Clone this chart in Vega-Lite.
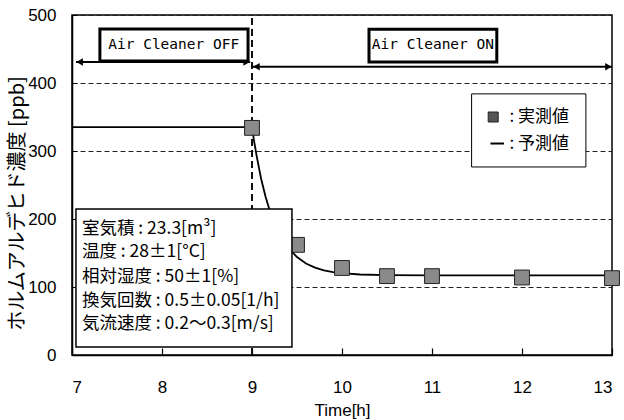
{
  "$schema": "https://vega.github.io/schema/vega-lite/v6.json",
  "width": 540,
  "height": 340,
  "autosize": {"type": "none"},
  "padding": {"left": 72, "top": 15, "right": 12, "bottom": 65},
  "background": "white",
  "config": {
    "view": {"stroke": "black", "strokeWidth": 1.5},
    "font": "Liberation Sans"
  },
  "datasets": {
    "pred": [
      {"x": 7, "y": 335}, {"x": 8, "y": 335}, {"x": 9, "y": 335},
      {"x": 9.02, "y": 317}, {"x": 9.05, "y": 294}, {"x": 9.1, "y": 260},
      {"x": 9.15, "y": 233}, {"x": 9.2, "y": 211}, {"x": 9.25, "y": 193},
      {"x": 9.3, "y": 179}, {"x": 9.4, "y": 158}, {"x": 9.5, "y": 144},
      {"x": 9.6, "y": 134.5}, {"x": 9.7, "y": 128.5}, {"x": 9.8, "y": 124.6},
      {"x": 9.9, "y": 122}, {"x": 10, "y": 120.3}, {"x": 10.2, "y": 118.4},
      {"x": 10.5, "y": 117.4}, {"x": 11, "y": 117}, {"x": 12, "y": 117}, {"x": 13, "y": 117}
    ],
    "meas": [
      {"x": 9, "y": 334}, {"x": 9.5, "y": 162}, {"x": 10, "y": 128},
      {"x": 10.5, "y": 116}, {"x": 11, "y": 116}, {"x": 12, "y": 114}, {"x": 13, "y": 113}
    ],
    "info": [
      {"x": 7.11, "y": 185.3, "t": "室気積 : 23.3[m³]"},
      {"x": 7.11, "y": 151.5, "t": "温度 : 28±1[°C]"},
      {"x": 7.11, "y": 114.7, "t": "相対湿度 : 50±1[%]"},
      {"x": 7.11, "y": 79.4, "t": "換気回数 : 0.5±0.05[1/h]"},
      {"x": 7.11, "y": 45.6, "t": "気流速度 : 0.2〜0.3[m/s]"}
    ]
  },
  "encoding": {
    "x": {
      "field": "x", "type": "quantitative",
      "scale": {"domain": [7, 13], "nice": false, "zero": false},
      "axis": {
        "values": [7, 8, 9, 10, 11, 12, 13],
        "grid": false,
        "tickSize": -7, "tickColor": "black", "tickWidth": 1.2,
        "domainColor": "black", "domainWidth": 1.5,
        "labelFontSize": 17, "labelColor": "black", "labelPadding": 31,
        "labelFont": "Liberation Sans",
        "title": "Time[h]", "titleFontSize": 17, "titleFontWeight": "normal",
        "titleColor": "black", "titleFont": "Liberation Sans",
        "titleY": 55, "titleBaseline": "middle"
      }
    },
    "y": {
      "field": "y", "type": "quantitative",
      "scale": {"domain": [0, 500], "nice": false},
      "axis": {
        "values": [0, 100, 200, 300, 400, 500],
        "grid": true, "gridDash": [5, 3], "gridColor": "#222", "gridWidth": 1,
        "tickSize": -5, "tickColor": "black",
        "domainColor": "black", "domainWidth": 1.5,
        "labelFontSize": 17, "labelColor": "black", "labelPadding": 21,
        "labelFont": "Liberation Sans",
        "title": "ホルムアルデヒド濃度 [ppb]", "titleFont": "Noto Sans CJK JP",
        "titleFontSize": 20, "titleFontWeight": "normal", "titleColor": "black",
        "titleX": -55, "titleY": 188, "titleAlign": "center", "titleBaseline": "middle", "titleAngle": -90
      }
    }
  },
  "layer": [
    {
      "data": {"values": [{"x": 9, "y": 0, "y2": 500}]},
      "mark": {"type": "rule", "strokeDash": [7, 4], "strokeWidth": 2, "color": "#111"},
      "encoding": {"y2": {"field": "y2"}}
    },
    {
      "data": {"name": "pred"},
      "mark": {"type": "line", "color": "black", "strokeWidth": 1.8},
      "encoding": {}
    },
    {
      "data": {"name": "meas"},
      "mark": {"type": "square", "size": 220, "filled": true, "color": "#8a8a8a", "stroke": "#222", "strokeWidth": 1, "opacity": 1}
    },
    {
      "data": {"values": [{"x": 7.044, "x2": 9.444, "y": 11.8, "y2": 214.7}]},
      "mark": {"type": "rect", "fill": "white", "stroke": "black", "strokeWidth": 1.5},
      "encoding": {"x2": {"field": "x2"}, "y2": {"field": "y2"}}
    },
    {
      "data": {"name": "info"},
      "mark": {"type": "text", "align": "left", "baseline": "middle", "font": "Noto Sans CJK JP", "fontSize": 17.5, "color": "black"},
      "encoding": {"text": {"field": "t"}}
    },
    {
      "data": {"values": [{"x": 7.044, "x2": 8.98, "y": 431}, {"x": 9.01, "x2": 13.0, "y": 424}]},
      "mark": {"type": "rule", "strokeWidth": 2, "color": "black"},
      "encoding": {"x2": {"field": "x2"}}
    },
    {
      "data": {"values": [
        {"x": 7.085, "y": 431, "s": "triangle-left"},
        {"x": 8.94, "y": 431, "s": "triangle-right"},
        {"x": 9.05, "y": 424, "s": "triangle-left"},
        {"x": 12.96, "y": 424, "s": "triangle-right"}
      ]},
      "mark": {"type": "point", "filled": true, "size": 55, "color": "black", "opacity": 1},
      "encoding": {"shape": {"field": "s", "type": "nominal", "scale": null}}
    },
    {
      "data": {"values": [
        {"x": 7.31, "x2": 8.956, "y": 432.4, "y2": 479.4},
        {"x": 10.3, "x2": 11.72, "y": 431, "y2": 479}
      ]},
      "mark": {"type": "rect", "fill": "white", "stroke": "black", "strokeWidth": 3},
      "encoding": {"x2": {"field": "x2"}, "y2": {"field": "y2"}}
    },
    {
      "data": {"values": [
        {"x": 8.13, "y": 456, "t": "Air Cleaner OFF"},
        {"x": 11.01, "y": 456, "t": "Air Cleaner ON"}
      ]},
      "mark": {"type": "text", "align": "center", "baseline": "middle", "font": "DejaVu Sans Mono", "fontSize": 14.5, "color": "black"},
      "encoding": {"text": {"field": "t"}}
    },
    {
      "data": {"values": [{"x": 11.44, "x2": 12.71, "y": 276.5, "y2": 384}]},
      "mark": {"type": "rect", "fill": "white", "stroke": "black", "strokeWidth": 1},
      "encoding": {"x2": {"field": "x2"}, "y2": {"field": "y2"}}
    },
    {
      "data": {"values": [{"x": 11.68, "y": 350}]},
      "mark": {"type": "square", "size": 100, "filled": true, "color": "#555", "stroke": "#222", "strokeWidth": 1, "opacity": 1}
    },
    {
      "data": {"values": [{"x": 11.65, "x2": 11.8, "y": 311}]},
      "mark": {"type": "rule", "strokeWidth": 2, "color": "black"},
      "encoding": {"x2": {"field": "x2"}}
    },
    {
      "data": {"values": [
        {"x": 11.86, "y": 350, "t": ": 実測値"},
        {"x": 11.86, "y": 311, "t": ": 予測値"}
      ]},
      "mark": {"type": "text", "align": "left", "baseline": "middle", "font": "Noto Sans CJK JP", "fontSize": 17, "color": "black"},
      "encoding": {"text": {"field": "t"}}
    }
  ]
}
